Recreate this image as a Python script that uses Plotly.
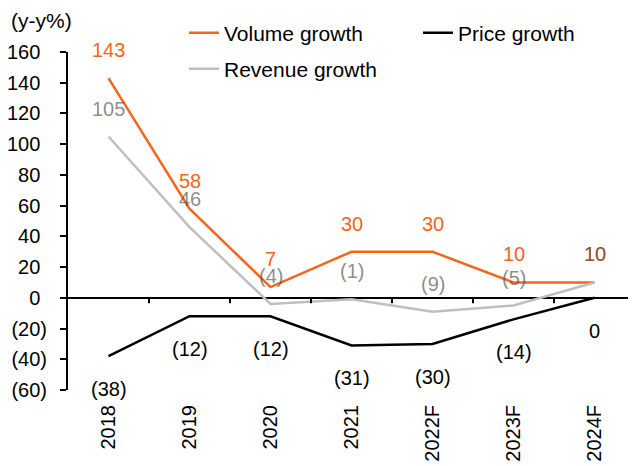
import plotly.graph_objects as go

# Data
years = ["2018", "2019", "2020", "2021", "2022F", "2023F", "2024F"]
volume_growth = [143, 58, 7, 30, 30, 10, 10]
price_growth = [-38, -12, -12, -31, -30, -14, 0]
revenue_growth = [105, 46, -4, -1, -9, -5, 10]
y_ticks = [-60, -40, -20, 0, 20, 40, 60, 80, 100, 120, 140, 160]

ORANGE = "#F4661B"
GREY = "#BFBFBF"
FONT = "Arial"
FS = 20

#page body has an 8px margin, so the figure is a bit smaller than the window
W, H = 628, 458


def fmt(v):
    """Accounting style: negatives in brackets."""
    return "({:d})".format(abs(v)) if v < 0 else "{:d}".format(v)


def fmt_tick(v):
    #positive ticks keep an invisible ")" so digits line up like Excel's format
    if v < 0:
        return fmt(v)
    return "{:d}<span style='color:rgba(0,0,0,0)'>)</span>".format(v)


fig = go.Figure()
series = [
    ("Volume growth", volume_growth, ORANGE, "legend"),
    ("Price growth", price_growth, "black", "legend"),
    ("Revenue growth", revenue_growth, GREY, "legend2"),
]
for name, vals, col, leg in series:
    fig.add_trace(go.Scatter(x=years, y=vals, name=name, mode="lines",
                             legend=leg, line=dict(color=col, width=2.5)))

#Data labels: volume/revenue above the point, price below
#(category index used as x, year strings would be read as numbers)
label_specs = [
    (volume_growth, ORANGE, 28),
    (price_growth, "black", -33),
    (revenue_growth, "rgba(75,75,75,0.65)", 28),
]
for vals, col, shift in label_specs:
    for i, v in enumerate(vals):
        fig.add_annotation(x=i, y=v, text=fmt(v), showarrow=False,
                           yshift=shift, font=dict(color=col, size=FS, family=FONT))

#Small tick marks on the zero line between categories
for i in range(len(years)):
    fig.add_shape(type="line", xref="x", yref="y", x0=i + 0.5, x1=i + 0.5,
                  y0=0, y1=-3.5, line=dict(color="black", width=2))

fig.add_annotation(text="(y-y%)", xref="paper", yref="paper", x=0, y=1,
                   xshift=-59, yshift=32, xanchor="left", yanchor="middle",
                   showarrow=False, font=dict(size=21, family=FONT, color="black"))

legend_style = dict(orientation="h", xref="container", yref="container",
                    xanchor="left", yanchor="middle", entrywidth=189,
                    bgcolor="rgba(0,0,0,0)", font=dict(size=21, family=FONT))

fig.update_layout(
    width=W, height=H,
    margin=dict(l=60, r=1, t=44, b=76, autoexpand=False),
    plot_bgcolor="white", paper_bgcolor="white",
    font=dict(family=FONT, size=FS, color="black"),
    showlegend=True,
    legend=dict(legend_style, x=176 / W, y=1 - 25 / H),
    legend2=dict(legend_style, x=176 / W, y=1 - 61 / H),
    xaxis=dict(type="category", range=[-0.5, 6.5], showline=False, ticks="",
               tickangle=-90, ticklabelstandoff=10,
               showgrid=False, zeroline=False),
    yaxis=dict(range=[-60, 160], tickvals=y_ticks,
               ticktext=[fmt_tick(t) for t in y_ticks],
               showline=True, linecolor="black", linewidth=2,
               ticks="outside", ticklen=6, tickwidth=2, tickcolor="black",
               ticklabelstandoff=9,
               showgrid=False, zeroline=True, zerolinecolor="black",
               zerolinewidth=2),
)

fig.write_html("out.html")
